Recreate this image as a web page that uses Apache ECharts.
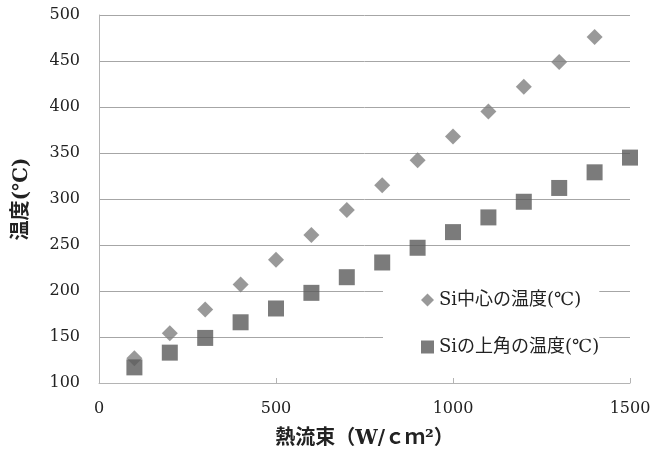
<!DOCTYPE html>
<html>
<head>
<meta charset="utf-8">
<script src="https://cdn.jsdelivr.net/npm/echarts@6/dist/echarts.min.js"></script>
<style>html,body{margin:0;padding:0;background:#fff}#c{width:672px;height:466px}</style>
</head>
<body>
<div id="c"></div>
<script>
const heatFlux = [100, 200, 300, 400, 500, 600, 700, 800, 900, 1000, 1100, 1200, 1300, 1400, 1500];
const centerTemp = [127, 154, 180, 207, 234, 261, 288, 315, 342, 368, 395, 422, 449, 476];
const cornerTemp = [117, 133, 149, 166, 181, 198, 215, 231, 247, 264, 280, 297, 312, 329, 345];
const seriesNames = ['Si中心の温度(℃)', 'Siの上角の温度(℃)'];
const xTitle = '熱流束（W/ｃｍ²）';
const yTitle = '温度(℃)';

const FONT = '"DejaVu Serif", "Liberation Serif", "Noto Sans CJK JP", serif';
const chart = echarts.init(document.getElementById('c'), null, {renderer: 'canvas'});
chart.setOption({
  animation: false,
  backgroundColor: '#fff',
  textStyle: {fontFamily: FONT},
  grid: {left: 99, right: 42, top: 15, bottom: 83, containLabel: false},
  xAxis: {
    type: 'value', min: 0, max: 1500, interval: 500,
    name: xTitle, nameLocation: 'middle', nameGap: 46,
    nameTextStyle: {fontSize: 20, fontWeight: 'bold', color: '#222', fontFamily: FONT},
    axisLine: {show: true, lineStyle: {color: '#b4b4b4', width: 1}},
    axisTick: {show: true, inside: true, length: 5, lineStyle: {color: '#b4b4b4'}},
    axisLabel: {fontSize: 16, color: '#222', margin: 18, fontFamily: FONT, formatter: v => String(v)},
    splitLine: {show: false}
  },
  yAxis: {
    type: 'value', min: 100, max: 500, interval: 50,
    name: yTitle, nameLocation: 'middle', nameGap: 67, nameRotate: 90,
    nameTextStyle: {fontSize: 20, fontWeight: 'bold', color: '#222', fontFamily: FONT},
    axisLine: {show: true, lineStyle: {color: '#b4b4b4', width: 1}},
    axisTick: {show: false},
    axisLabel: {fontSize: 16, color: '#222', margin: 19, fontFamily: FONT, formatter: v => String(v)},
    splitLine: {show: true, lineStyle: {color: '#a6a6a6', width: 1}}
  },
  legend: {
    orient: 'vertical',
    left: 383, top: 279,
    padding: [12, 0, 12, 38],
    itemGap: 29,
    itemWidth: 13, itemHeight: 13,
    backgroundColor: '#fff',
    textStyle: {fontSize: 18, color: '#222', fontFamily: FONT},
    data: [
      {name: seriesNames[0], icon: 'diamond'},
      {name: seriesNames[1], icon: 'rect'}
    ]
  },
  series: [
    {
      name: seriesNames[0], type: 'scatter', symbol: 'diamond', symbolSize: 16,
      itemStyle: {color: '#7f7f7f'},
      data: centerTemp.map((v, i) => [heatFlux[i], v])
    },
    {
      name: seriesNames[1], type: 'scatter', symbol: 'rect', symbolSize: 16,
      itemStyle: {color: '#5a5a5a'},
      data: cornerTemp.map((v, i) => [heatFlux[i], v])
    }
  ]
});
</script>
</body>
</html>
